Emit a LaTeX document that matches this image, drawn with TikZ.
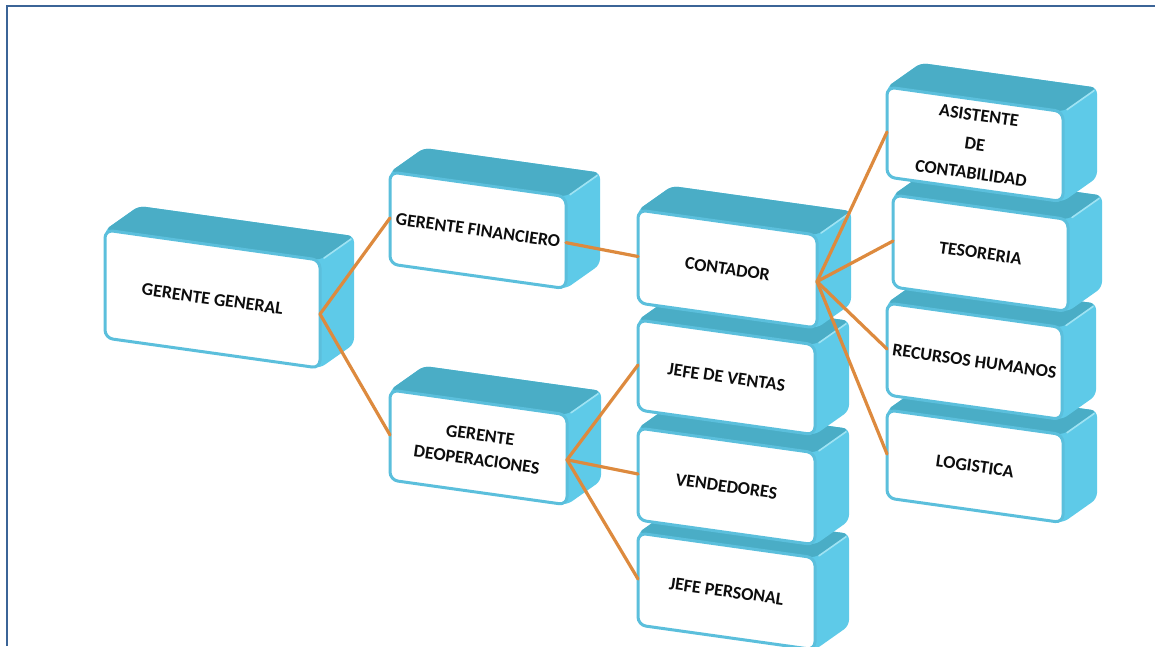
\documentclass[tikz,border=0pt]{standalone}
\usepackage{fontspec}
\setmainfont{Carlito}
\definecolor{topc}{HTML}{4AADC6}
\definecolor{sidec}{HTML}{5ECAE8}
\definecolor{edgec}{HTML}{5BBFDC}
\definecolor{ridgec}{HTML}{9FE3F3}
\definecolor{linkc}{HTML}{DD8A3E}
\definecolor{framec}{HTML}{3B6497}
\tikzset{
  topface/.style={fill=topc, rounded corners=6pt},
  sideface/.style={fill=sidec, rounded corners=6pt},
  frontface/.style={draw=edgec, line width=3pt, fill=white, rounded corners=8pt},
  ridge/.style={draw=ridgec, line width=1.6pt, line cap=round},
  lbl/.style={font=\fontsize{18}{22}\selectfont\bfseries, text=black!95, rotate=-8, align=center, inner sep=0pt},
  link/.style={draw=linkc, line width=3.2pt, line cap=round},
  frameline/.style={draw=framec, line width=2.5pt}
}
\def\qsl{0.14}
\def\qdx{34}
\def\qdy{-24}
% #1 name, #2 x, #3 y, #4 w, #5 h, #6 text
\newcommand{\obox}[6]{%
  \pgfmathsetmacro{\qAx}{#2}%
  \pgfmathsetmacro{\qAy}{#3}%
  \pgfmathsetmacro{\qBx}{#2+#4}%
  \pgfmathsetmacro{\qBy}{#3+\qsl*#4}%
  \pgfmathsetmacro{\qCy}{\qBy+#5}%
  \pgfmathsetmacro{\qDy}{#3+#5}%
  \fill[sideface] (\qAx,\qAy) -- (\qAx+\qdx,\qAy+\qdy) -- (\qBx+\qdx,\qBy+\qdy) -- (\qBx+\qdx,\qCy+\qdy) -- (\qBx,\qCy) -- (\qAx,\qDy) -- cycle;
  \fill[topface] (\qAx,\qAy) -- (\qAx+\qdx,\qAy+\qdy) -- (\qBx+\qdx,\qBy+\qdy) -- (\qBx,\qBy) -- cycle;
  \draw[ridge] (\qBx+4,\qBy-2) -- (\qBx+\qdx-3,\qBy+\qdy+3);
  \draw[frontface] (\qAx,\qAy) -- (\qBx,\qBy) -- (\qBx,\qCy) -- (\qAx,\qDy) -- cycle;
  \node[lbl] (#1) at ({(\qAx+\qBx)/2},{(\qAy+\qCy)/2}) {#6};
  \coordinate (#1-l) at (\qAx,{(\qAy+\qDy)/2});
  \coordinate (#1-r) at (\qBx,{(\qBy+\qCy)/2});
}
\begin{document}
\begin{tikzpicture}[x=1pt,y=-1pt]
\useasboundingbox (0,0) rectangle (1155,646);
\fill[white] (0,0) rectangle (1155,646);
\coordinate (fa) at (7,646);
\coordinate (fb) at (7,6);
\coordinate (fc) at (1155,6);
\draw[frameline] (fa) -- (fb) -- (fc);
% level 1 and 2
\obox{gg}{105}{230}{215}{108}{GERENTE GENERAL}
\obox{gf}{390}{172}{176}{92}{GERENTE FINANCIERO}
\obox{go}{390}{390}{177}{90}{GERENTE\\[3pt]DEOPERACIONES}
% column 3 (bottom up)
\obox{jp}{638}{533}{177}{92}{JEFE PERSONAL}
\obox{ven}{638}{428}{177}{92}{VENDEDORES}
\obox{jdv}{638}{320}{177}{90}{JEFE DE VENTAS}
\obox{cont}{638}{210}{179}{93}{CONTADOR}
% column 4 (bottom up)
\obox{log}{887}{410}{176}{88}{LOGISTICA}
\obox{rrhh}{887}{303}{175}{92}{RECURSOS HUMANOS}
\obox{tes}{893}{195}{175}{92}{TESORERIA}
\obox{asis}{887}{87}{176}{90}{ASISTENTE\\[7pt]DE\\[7pt]CONTABILIDAD}
% connectors
\draw[link] (gg-r) -- (gf-l);
\draw[link] (gg-r) -- (go-l);
\draw[link] (gf-r) -- (cont-l);
\draw[link] (go-r) -- (jdv-l);
\draw[link] (go-r) -- (ven-l);
\draw[link] (go-r) -- (jp-l);
\draw[link] (cont-r) -- (asis-l);
\draw[link] (cont-r) -- (tes-l);
\draw[link] (cont-r) -- (rrhh-l);
\draw[link] (cont-r) -- (log-l);
\end{tikzpicture}
\end{document}
